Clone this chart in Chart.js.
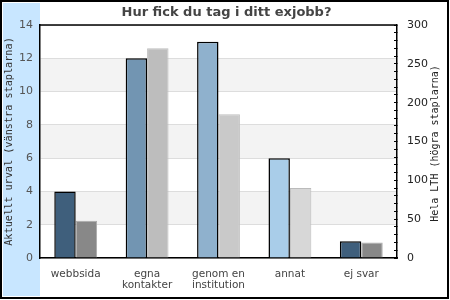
<!DOCTYPE html>
<html>
<head>
<meta charset="utf-8">
<script src="https://cdn.jsdelivr.net/npm/chart.js@4.4.1/dist/chart.umd.min.js"></script>
<style>
  html, body { margin: 0; padding: 0; background: #fff; }
  #wrap { width: 450px; height: 300px; }
</style>
</head>
<body>
<div id="wrap"><canvas id="chart" width="450" height="300"></canvas></div>
<script>
// data
const categories = ['webbsida', ['egna', 'kontakter'], ['genom en', 'institution'], 'annat', 'ej svar'];
const urval = [4, 12, 13, 6, 1];              // left axis
const helaLth = [48, 270, 185, 90, 20];       // right axis
const leftTicks = [0, 2, 4, 6, 8, 10, 12, 14];
const rightLabels = [0, 50, 100, 150, 200, 250, 300];

const darkColors = ['#3f5f7c', '#7295b2', '#8fb1cd', '#a9cde9', '#3f5f7c'];
const grayColors = ['#888888', '#bdbdbd', '#c9c9c9', '#d7d7d7', '#888888'];
const grayBorders = ['#aaaaaa', '#bdbdbd', '#c0c0c0', '#bbbbbb', '#aaaaaa'];

Chart.defaults.font.family = 'DejaVu Sans';

// background, blue strip, bands, frame and right axis title
const decor = {
    id: 'decor',
    beforeDraw(chart) {
        const ctx = chart.ctx;
        const area = chart.chartArea;
        const y = chart.scales.y;
        ctx.save();
        ctx.fillStyle = '#ffffff';
        ctx.fillRect(0, 0, chart.width, chart.height);
        ctx.fillStyle = '#c8e6ff';
        ctx.fillRect(3, 3, area.left - 3, 293);
        // alternating bands
        ctx.fillStyle = '#f3f3f3';
        for (let i = 2; i < 14; i += 4) {
            const top = y.getPixelForValue(i + 2);
            const bot = y.getPixelForValue(i);
            ctx.fillRect(area.left, top, area.right - area.left, bot - top);
        }
        ctx.restore();
    },
    afterDraw(chart) {
        const ctx = chart.ctx;
        const area = chart.chartArea;
        ctx.save();
        ctx.strokeStyle = '#000000';
        ctx.lineWidth = 1.5;
        ctx.beginPath();
        ctx.moveTo(area.left, area.top);
        ctx.lineTo(area.right, area.top);
        ctx.stroke();
        // outer frame
        ctx.lineWidth = 2;
        ctx.strokeRect(1, 1, 447, 297);
        // right axis title, reading upward
        ctx.translate(435, (area.top + area.bottom) / 2 + 2);
        ctx.rotate(-Math.PI / 2);
        ctx.fillStyle = '#222222';
        ctx.font = '10px "DejaVu Sans Mono"';
        ctx.textAlign = 'center';
        ctx.textBaseline = 'middle';
        ctx.fillText('Hela LTH (högra staplarna)', 0, 0);
        ctx.restore();
    }
};

const config = {
    type: 'bar',
    data: {
        labels: categories,
        datasets: [{
            label: 'Aktuellt urval',
            data: urval,
            yAxisID: 'y',
            backgroundColor: darkColors,
            borderColor: '#000000',
            borderWidth: 1.5
        }, {
            label: 'Hela LTH',
            data: helaLth,
            yAxisID: 'y1',
            backgroundColor: grayColors,
            borderColor: grayBorders,
            borderWidth: 1
        }]
    },
    options: {
        responsive: false,
        animation: false,
        devicePixelRatio: 1,
        layout: { padding: { left: 3, top: 0, right: 0, bottom: 0 } },
        categoryPercentage: 0.6,
        barPercentage: 1,
        plugins: {
            legend: { display: false },
            tooltip: { enabled: false },
            title: {
                display: true,
                text: 'Hur fick du tag i ditt exjobb?',
                color: '#444444',
                font: { size: 13, weight: 'bold' },
                padding: { top: 5, bottom: 4.4 }
            }
        },
        scales: {
            x: {
                grid: { display: false },
                border: { color: '#000000', width: 1.5 },
                ticks: {
                    color: '#444444',
                    font: { size: 10.5, lineHeight: 1.05 },
                    padding: 3,
                    maxRotation: 0,
                    autoSkip: false
                },
                afterFit(scale) { scale.height = 42; }
            },
            y: {
                position: 'left',
                min: 0,
                max: 14,
                afterBuildTicks(scale) { scale.ticks = leftTicks.map(v => ({ value: v })); },
                grid: { color: '#dddddd', drawTicks: false },
                border: { color: '#000000', width: 1.5 },
                ticks: { color: '#555555', font: { size: 11 }, padding: 7 },
                title: {
                    display: true,
                    text: 'Aktuellt urval (vänstra staplarna)',
                    color: '#333333',
                    font: { family: 'DejaVu Sans Mono', size: 10.2 },
                    padding: { top: 0.5, bottom: 0 }
                },
                afterFit(scale) { scale.width = 37; }
            },
            y1: {
                position: 'right',
                min: 0,
                max: 300,
                grid: {
                    drawOnChartArea: false,
                    drawTicks: true,
                    tickLength: -3,
                    color: '#000000'
                },
                border: { color: '#000000', width: 1.5 },
                ticks: {
                    stepSize: 10,
                    autoSkip: false,
                    color: '#222222',
                    font: { size: 11 },
                    padding: 13,
                    callback: v => rightLabels.includes(v) ? v : ''
                },
                afterFit(scale) { scale.width = 53; }
            }
        }
    },
    plugins: [decor]
};

new Chart(document.getElementById('chart'), config);
</script>
</body>
</html>
